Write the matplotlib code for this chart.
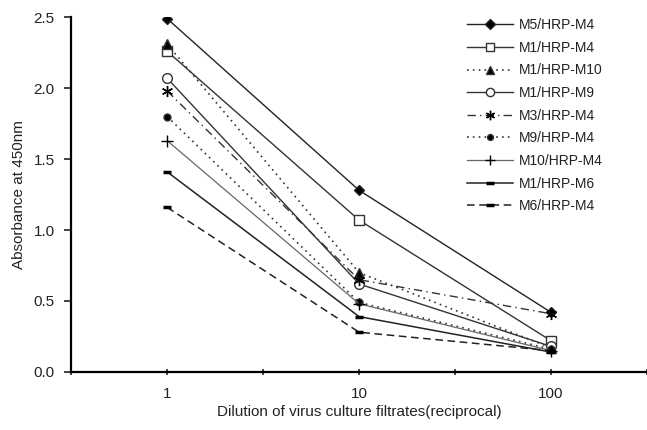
import matplotlib
matplotlib.use("Agg")
import matplotlib.pyplot as plt

plt.rcParams['font.family'] = ['Liberation Sans', 'DejaVu Sans']

categories = ["1", "10", "100"]
series_names = ["M5/HRP-M4", "M1/HRP-M4", "M1/HRP-M10", "M1/HRP-M9", "M3/HRP-M4",
                "M9/HRP-M4", "M10/HRP-M4", "M1/HRP-M6", "M6/HRP-M4"]
m5_m4 = [2.49, 1.28, 0.42]
m1_m4 = [2.26, 1.07, 0.22]
m1_m10 = [2.31, 0.70, 0.17]
m1_m9 = [2.07, 0.62, 0.18]
m3_m4 = [1.98, 0.65, 0.41]
m9_m4 = [1.80, 0.49, 0.16]
m10_m4 = [1.63, 0.48, 0.15]
m1_m6 = [1.41, 0.39, 0.14]
m6_m4 = [1.16, 0.28, 0.15]
yticks = [0.0, 0.5, 1.0, 1.5, 2.0, 2.5]

values = [m5_m4, m1_m4, m1_m10, m1_m9, m3_m4, m9_m4, m10_m4, m1_m6, m6_m4]
styles = [
    dict(marker='D', ls='-', mfc='black', ms=5.5, color='#222222', lw=1.0),
    dict(marker='s', ls='-', mfc='white', ms=7, color='#333333', lw=1.0),
    dict(marker='^', ls=(0, (1, 2.5)), mfc='black', ms=7, color='#333333', lw=1.2),
    dict(marker='o', ls='-', mfc='white', ms=7, color='#333333', lw=1.0),
    dict(marker=(6, 2, 0), ls=(0, (6, 3, 1, 3)), mfc='black', ms=8, color='#333333', lw=1.0),
    dict(marker='o', ls=(0, (1, 2.5)), mfc='black', ms=5, color='#333333', lw=1.2),
    dict(marker='+', ls='-', mfc='black', ms=9, color='#666666', lw=0.9),
    dict(marker='_', ls='-', mfc='black', ms=6, color='#222222', lw=1.1, mew=2.5),
    dict(marker='_', ls=(0, (5, 3)), mfc='black', ms=6, color='#222222', lw=1.1, mew=2.5),
]

fig = plt.figure(figsize=(6.47, 4.30), dpi=100)
ax = fig.add_axes([0.110, 0.135, 0.890, 0.825])

x = list(range(len(categories)))
for name, vals, st in zip(series_names, values, styles):
    st = dict(st)
    mew = st.pop('mew', 1.0)
    ax.plot(x, vals, label=name, mec=st['color'] if st['marker'] not in ('+', '_', (6, 2, 0)) else 'black',
            mew=mew, **st)

ax.set_xlim(-0.5, 2.5)
ax.set_ylim(0, 2.5)
ax.set_xticks(x)
ax.set_xticklabels(categories)
ax.set_xticks([-0.5, 0.5, 1.5, 2.5], minor=True)
ax.set_yticks(yticks)
ax.set_yticklabels([f"{v:.1f}" for v in yticks])
ax.tick_params(axis='y', direction='out', length=5, width=1.2, labelsize=11, pad=7, colors='#222222')
ax.tick_params(axis='x', which='both', direction='inout', length=5, width=1.2, labelsize=11,
               pad=8, colors='#222222')
ax.spines['top'].set_visible(False)
ax.spines['right'].set_visible(False)
ax.spines['left'].set_linewidth(1.6)
ax.spines['bottom'].set_linewidth(1.6)
ax.set_ylabel("Absorbance at 450nm", fontsize=11, color='#222222', labelpad=5)
ax.set_xlabel("Dilution of virus culture filtrates(reciprocal)", fontsize=11, color='#222222', labelpad=3)

leg = ax.legend(loc='upper left', bbox_to_anchor=(0.6875, 0.997), frameon=False,
                fontsize=10, handlelength=3.3, labelspacing=0.62, handletextpad=0.4,
                borderaxespad=0.0, borderpad=0.0, markerscale=0.85)
for t in leg.get_texts():
    t.set_color('#222222')

fig.savefig("out.png", dpi=100)
